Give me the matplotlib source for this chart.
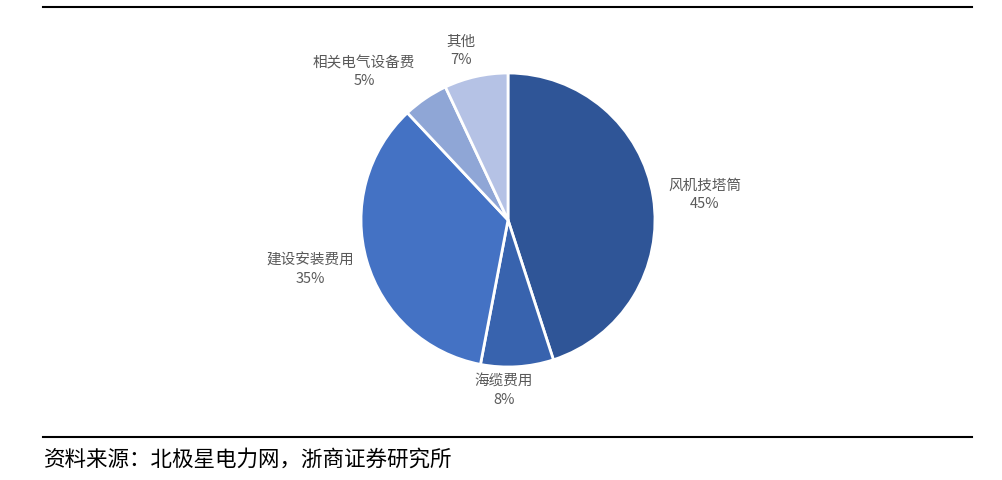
import matplotlib.pyplot as plt
from matplotlib.lines import Line2D

plt.rcParams['font.family'] = ['Noto Sans CJK SC', 'DejaVu Sans']

# data, clockwise from 12 o'clock
names = ['风机技塔筒', '海缆费用', '建设安装费用', '相关电气设备费', '其他']
shares = [45, 8, 35, 5, 7]
colors = ['#2F5597', '#3863AE', '#4472C4', '#8FA6D6', '#B5C2E5']

# label centres in pixels (x from left, y from top)
label_px = [(705, 195), (504, 391), (310, 270), (364, 72), (461, 51)]

W, H = 1003, 480
fig = plt.figure(figsize=(W / 100, H / 100), dpi=100)

cx, cy, r = 508, 220, 147
box = 150
ax = fig.add_axes([(cx - box) / W, (H - cy - box) / H, 2 * box / W, 2 * box / H])
ax.pie(shares, colors=colors, startangle=90, counterclock=False,
       wedgeprops=dict(edgecolor='white', linewidth=2))
ax.set_xlim(-box / r, box / r)
ax.set_ylim(-box / r, box / r)
ax.set_aspect('equal')
ax.axis('off')

for name, pct, (lx, ly) in zip(names, shares, label_px):
    fig.text(lx / W, 1 - ly / H, f'{name}\n{pct}%', ha='center', va='center',
             fontsize=10.5, color='#595959', linespacing=1.35)

# rules top and bottom
fig.add_artist(Line2D([43 / W, 972 / W], [1 - 7 / H, 1 - 7 / H], color='black', lw=1.5))
fig.add_artist(Line2D([43 / W, 972 / W], [1 - 437 / H, 1 - 437 / H], color='black', lw=1.5))

fig.text(44 / W, 1 - 460 / H, '资料来源：北极星电力网，浙商证券研究所', ha='left', va='center',
         fontsize=15.5, color='black')

fig.savefig('out.png', dpi=100)
